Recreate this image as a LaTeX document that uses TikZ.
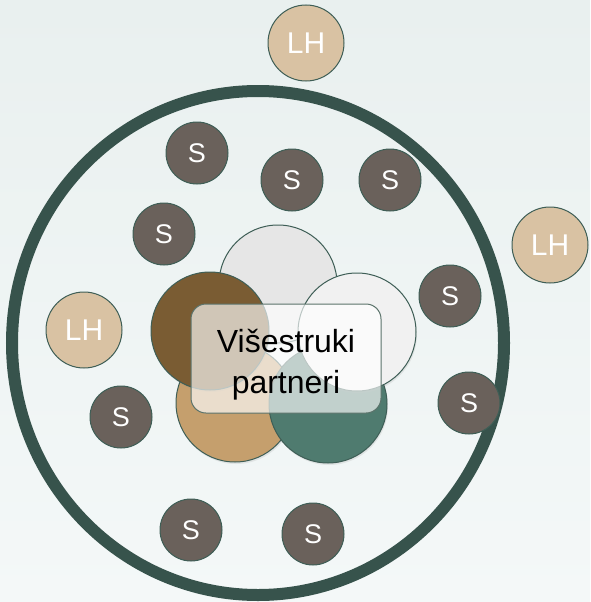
\documentclass[tikz,border=0pt]{standalone}
\usepackage{fontspec}
\setmainfont{Liberation Sans}
\usetikzlibrary{shadows}
\definecolor{bgtop}{HTML}{E9F0EF}
\definecolor{bgbot}{HTML}{F4F8F8}
\definecolor{ringc}{HTML}{37534C}
\definecolor{sfill}{HTML}{6A615B}
\definecolor{lhfill}{HTML}{D9C2A3}
\definecolor{edgec}{HTML}{3E5E56}
\definecolor{brownc}{HTML}{7A5C33}
\definecolor{tanc}{HTML}{C59F6D}
\definecolor{greenc}{HTML}{4F7B6F}
\definecolor{grayc}{HTML}{E6E6E6}
\definecolor{lightc}{HTML}{F1F1F1}
\definecolor{boxedge}{HTML}{5B736B}
\tikzset{
  sball/.style={circle, draw=edgec, line width=1pt, fill=sfill, minimum size=62pt, inner sep=0pt, text=white, font=\fontsize{27}{30}\selectfont},
  lhball/.style={circle, draw=edgec, line width=1pt, fill=lhfill, minimum size=76pt, inner sep=0pt, text=white, font=\fontsize{30}{34}\selectfont},
  petal/.style={circle, draw=edgec, line width=1pt, minimum size=118pt, inner sep=0pt, drop shadow={opacity=0.15, shadow xshift=1pt, shadow yshift=-2pt}},
  centerbox/.style={rounded corners=15pt, draw=boxedge, line width=1pt, fill=white, fill opacity=0.65, minimum width=190pt, minimum height=109pt},
  boxtext/.style={align=center, inner sep=0pt, font=\fontsize{32}{41}\selectfont},
}
\begin{document}
\begin{tikzpicture}[x=1pt, y=-1pt]
\shade[top color=bgtop, bottom color=bgbot] (0,0) rectangle (590,602);
\useasboundingbox (0,0) rectangle (590,602);
% ring
\draw[ringc, line width=12pt] (258,343) ellipse [x radius=246, y radius=252];
% petals
\node[petal, fill=tanc] (ptan) at (235,403) {};
\node[petal, fill=greenc] (pgreen) at (328,404) {};
\node[petal, fill=grayc] (ptop) at (278,284) {};
\node[petal, fill=lightc] (pright) at (357,332) {};
\node[petal, fill=brownc] (pbrown) at (210,331) {};
\node[centerbox] (box) at (286,358.5) {};
\node[boxtext] (label) at ([yshift=-6pt]box.center) {Višestruki\\partneri};
% LH
\node[lhball] (lh1) at (306,43) {LH};
\node[lhball] (lh2) at (550,245) {LH};
\node[lhball] (lh3) at (84,330) {LH};
% S
\node[sball] (s1) at (197,153) {S};
\node[sball] (s2) at (292,180) {S};
\node[sball] (s3) at (390,180) {S};
\node[sball] (s4) at (164,234) {S};
\node[sball] (s5) at (450,296) {S};
\node[sball] (s6) at (469,403) {S};
\node[sball] (s7) at (121,417) {S};
\node[sball] (s8) at (191,530) {S};
\node[sball] (s9) at (313,534) {S};
\end{tikzpicture}
\end{document}
